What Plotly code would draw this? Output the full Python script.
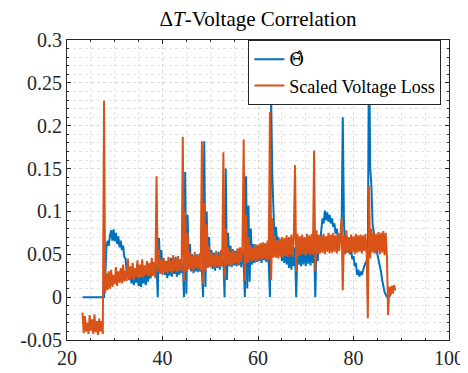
import numpy as np
import plotly.graph_objects as go

# ---- data ----
t_start = 23.25      # first sample time
t_step = 0.25        # sample spacing

voltage_loss = [
    -.018, -.042, -.022, -.040, -.030, -.043, -.021, -.039,
    -.026, -.043, -.020, -.041, -.028, -.044, -.025, -.040,
    -.028, -.043, .229, .005, .028, .008, .030, .010,
    .032, .012, .026, .015, .035, .013, .030, .017,
    .034, .016, .038, .018, .031, .019, .045, .020,
    .036, .021, .040, .020, .034, .024, .043, .022,
    .038, .024, .044, .023, .037, .026, .042, .025,
    .040, .024, .046, .026, .041, .022, .141, .030,
    .055, .027, .044, .026, .046, .029, .041, .028,
    .047, .030, .043, .028, .049, .031, .045, .029,
    .048, .031, .044, .030, .187, .019, .100, .030,
    .075, .032, .052, .033, .048, .030, .053, .034,
    .049, .033, .051, .031, .182, .015, .110, .030,
    .085, .034, .060, .035, .052, .036, .050, .034,
    .054, .036, .049, .035, .055, .037, .169, .022,
    .080, .037, .058, .038, .053, .036, .056, .039,
    .052, .040, .057, .038, .058, .041, .059, .184,
    .019, .096, .040, .070, .041, .060, .042, .058,
    .043, .062, .042, .061, .044, .063, .043, .064,
    .045, .063, .043, .066, .044, .216, .020, .092,
    .046, .072, .046, .066, .045, .068, .047, .070,
    .046, .069, .048, .072, .047, .070, .049, .073,
    .047, .071, .154, .030, .074, .048, .071, .049,
    .073, .050, .070, .048, .074, .051, .072, .049,
    .074, .050, .171, .030, .078, .050, .073, .051,
    .072, .052, .074, .050, .071, .053, .075, .051,
    .073, .052, .075, .053, .072, .051, .074, .054,
    .070, .092, .008, .072, .050, .078, .052, .070,
    .051, .073, .053, .071, .050, .074, .052, .072,
    .053, .073, .051, .072, .054, .074, .050, -.0245,
    .130, .045, .080, .052, .075, .051, .074, .053,
    .076, .050, .075, .052, .077, .049, .075, .047,
    -.021, .012, .002, .013, .004, .014, .008,
]

theta_hat = [
    0, 0, 0, 0, 0, 0, 0, 0,
    0, 0, 0, 0, 0, 0, 0, 0,
    0, 0, 0, .020, .058, .066, .060, .072,
    .078, .066, .079, .065, .075, .062, .071, .058,
    .066, .055, .060, .047, .045, .030, .032, .020,
    .026, .016, .028, .014, .025, .017, .027, .013,
    .024, .012, .028, .016, .026, .014, .030, .018,
    .034, .022, .036, .025, .040, .030, .038, .000,
    .069, .040, .055, .030, .045, .026, .042, .022,
    .044, .025, .046, .024, .043, .027, .047, .024,
    .045, .026, .044, .028, .040, .000, .146, .004,
    .096, .040, .062, .030, .050, .028, .048, .030,
    .050, .029, .046, .031, .030, .000, .182, .012,
    .100, .040, .070, .035, .055, .033, .052, .031,
    .050, .034, .053, .032, .051, .036, .045, .000,
    .150, .020, .075, .036, .060, .035, .055, .037,
    .054, .036, .056, .037, .055, .035, .057, .040,
    .000, .141, .010, .107, .018, .080, .038, .062,
    .040, .060, .041, .058, .042, .060, .040, .061,
    .043, .059, .041, .062, .040, .000, .232, .141,
    .085, .060, .082, .066, .070, .050, .064, .042,
    .062, .040, .064, .038, .060, .034, .058, .032,
    .060, .036, .058, .000, .060, .038, .062, .036,
    .063, .038, .064, .036, .062, .039, .065, .037,
    .064, .040, .060, .000, .062, .042, .066, .060,
    .078, .092, .086, .101, .090, .099, .088, .096,
    .086, .092, .082, .086, .074, .080, .068, .074,
    .066, .074, .210, .088, .050, .072, .052, .058,
    .050, .056, .044, .048, .036, .040, .026, .032,
    .024, .030, .026, .033, .036, .040, .042, .048,
    .310, .150, .130, .085, .076, .062, .058, .050,
    .044, .036, .030, .020, .012, .006, .003, .000,
    .002, .000, .004, .008, .013,
]

x_ticks = [20, 40, 60, 80, 100]
x_tick_labels = ["20", "40", "60", "80", "100"]
y_ticks = [-0.05, 0, 0.05, 0.1, 0.15, 0.2, 0.25, 0.3]
y_tick_labels = ["-0.05", "0", "0.05", "0.1", "0.15", "0.2", "0.25", "0.3"]

series_names = ["<span style='font-family:DejaVu Serif'>Θ̂</span>", "Scaled Voltage Loss"]
title_text = "Δ<i>T</i>-Voltage Correlation"

t_theta = t_start + t_step * np.arange(len(theta_hat))
t_volt = t_start + t_step * np.arange(len(voltage_loss))

BLUE = "#0072BD"
ORANGE = "#D95319"
AX = "#262626"
FONT = "Liberation Serif, DejaVu Serif, Times New Roman, serif"

fig = go.Figure()
fig.add_trace(go.Scatter(x=t_theta, y=theta_hat, mode="lines", name=series_names[0],
                         line=dict(color=BLUE, width=2)))
fig.add_trace(go.Scatter(x=t_volt, y=voltage_loss, mode="lines", name=series_names[1],
                         line=dict(color=ORANGE, width=2)))

axis_common = dict(
    showline=True, linecolor=AX, linewidth=1, mirror="ticks",
    ticks="inside", ticklen=4, tickcolor=AX, tickwidth=1,
    showgrid=True, gridcolor="#d9d9d9", griddash="dot", gridwidth=1,
    zeroline=False, ticklabeloverflow="allow",
    tickfont=dict(family=FONT, size=20, color=AX),
)

fig.update_xaxes(range=[20, 100], tickvals=x_ticks, ticktext=x_tick_labels,
                 minor=dict(dtick=5, showgrid=True, gridcolor="#e3e3e3", griddash="dot",
                            ticks="inside", ticklen=2, tickcolor=AX),
                 **axis_common)
fig.update_yaxes(range=[-0.05, 0.3], tickvals=y_ticks, ticktext=y_tick_labels,
                 minor=dict(dtick=0.01, tick0=0, showgrid=True, gridcolor="#e3e3e3", griddash="dot",
                            ticks="inside", ticklen=2, tickcolor=AX),
                 **axis_common)

fig.update_layout(
    width=468, height=373,
    margin=dict(l=55, r=13, t=32, b=30),
    paper_bgcolor="white", plot_bgcolor="white",
    font=dict(family=FONT, size=20, color=AX),
    title=dict(text=title_text, x=0.5, xref="paper", xanchor="center",
               y=0.99, yanchor="top", font=dict(family=FONT, size=21, color="black")),
    legend=dict(x=0.98, y=1.0, xanchor="right", yanchor="top",
                bgcolor="white", bordercolor=AX, borderwidth=1,
                font=dict(family=FONT, size=18, color="black"),
                tracegroupgap=0, itemwidth=30),
)

fig.write_html("out.html")
